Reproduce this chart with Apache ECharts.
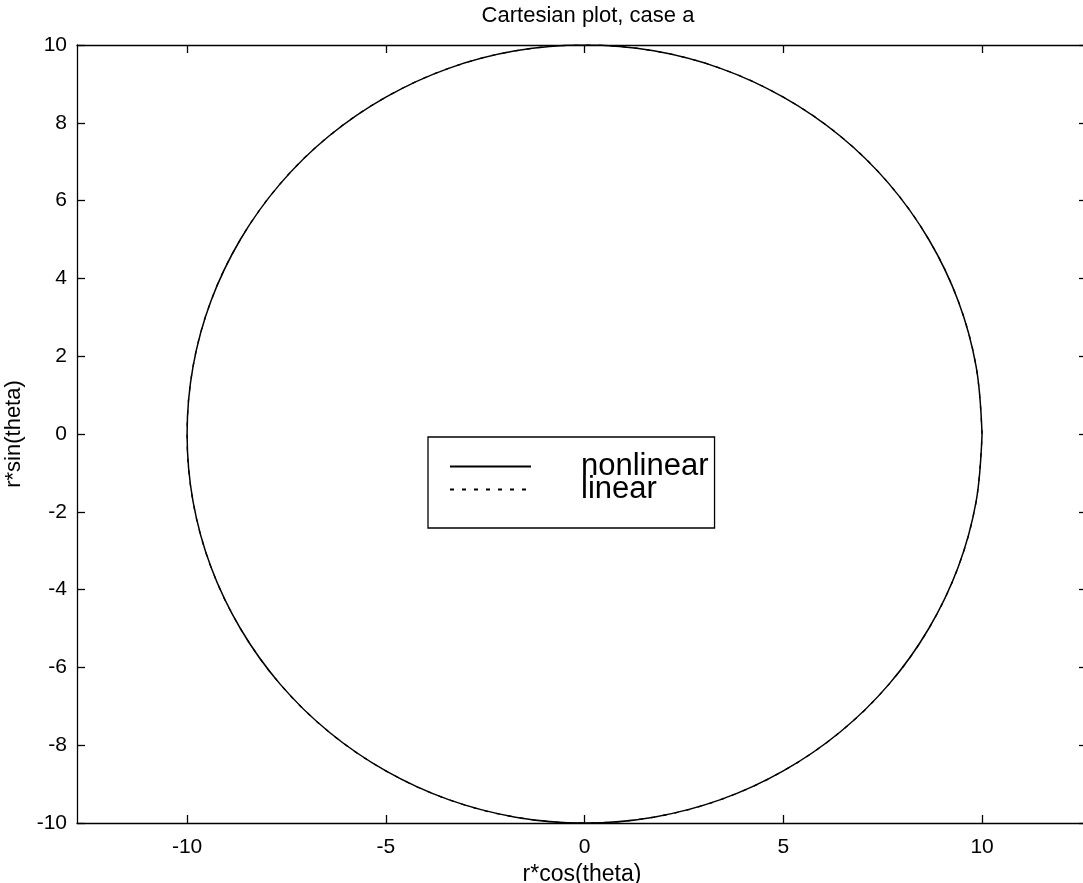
<!DOCTYPE html>
<html>
<head>
<meta charset="utf-8">
<script src="https://cdn.jsdelivr.net/npm/echarts@6/dist/echarts.min.js"></script>
<style>html,body{margin:0;padding:0;background:#fff;}#c{width:1083px;height:883px;}</style>
</head>
<body>
<div id="c"></div>
<script>
// Points (x = r*cos(theta), y = r*sin(theta))
var nonlinearX = [10, 9.85, 9.40, 8.66, 7.66, 6.43, 5.00, 3.42, 1.74, 0, -1.74, -3.42, -5.00, -6.43, -7.66, -8.66, -9.40, -9.85, -10, -9.85, -9.40, -8.66, -7.66, -6.43, -5.00, -3.42, -1.74, 0, 1.74, 3.42, 5.00, 6.43, 7.66, 8.66, 9.40, 9.85, 10];
var nonlinearY = [0, 1.74, 3.42, 5.00, 6.43, 7.66, 8.66, 9.40, 9.85, 10, 9.85, 9.40, 8.66, 7.66, 6.43, 5.00, 3.42, 1.74, 0, -1.74, -3.42, -5.00, -6.43, -7.66, -8.66, -9.40, -9.85, -10, -9.85, -9.40, -8.66, -7.66, -6.43, -5.00, -3.42, -1.74, 0];
var linearX = nonlinearX.slice();
var linearY = nonlinearY.slice();
var xTicks = [-10, -5, 0, 5, 10];
var yTicks = [-10, -8, -6, -4, -2, 0, 2, 4, 6, 8, 10];
var seriesNames = ['nonlinear', 'linear'];
var titleText = 'Cartesian plot, case a';
var xName = 'r*cos(theta)';
var yName = 'r*sin(theta)';

function pairs(xs, ys) { return xs.map(function (x, i) { return [x, ys[i]]; }); }

var FONT = 'Liberation Sans, Arial, sans-serif';
var chart = echarts.init(document.getElementById('c'), null, { renderer: 'canvas' });
var X_MIN = -12.77, X_MAX = 12.64;
var axisLine = { show: true, onZero: false, lineStyle: { color: '#000', width: 1.3 } };
var tick = { show: true, inside: true, length: 8, lineStyle: { color: '#000', width: 1.3 } };

chart.setOption({
  backgroundColor: '#fff',
  animation: false,
  title: {
    text: titleText, left: 583, top: 0, textAlign: 'center',
    textStyle: { fontFamily: FONT, fontSize: 22, fontWeight: 'normal', color: '#000' }
  },
  grid: { left: 77, top: 45, width: 1010, bottom: 60, containLabel: false, outerBoundsMode: 'none' },
  legend: {
    data: seriesNames,
    orient: 'vertical', left: 428, top: 437,
    padding: [14, 6, 23, 21],
    itemWidth: 81, itemHeight: 14, itemGap: -8,
    borderColor: '#000', borderWidth: 1.3, borderRadius: 0,
    backgroundColor: '#fff',
    selectedMode: false,
    itemStyle: { opacity: 0, borderWidth: 0 },
    textStyle: { fontFamily: FONT, fontSize: 31, color: '#000', padding: [0, 0, 0, 45] }
  },
  xAxis: [{
    type: 'value', position: 'bottom', min: X_MIN, max: X_MAX,
    name: xName, nameLocation: 'middle', nameGap: 38,
    nameTextStyle: { fontFamily: FONT, fontSize: 23, color: '#000' },
    axisLine: axisLine, axisTick: Object.assign({ customValues: xTicks }, tick),
    axisLabel: { customValues: xTicks, margin: 14, fontFamily: FONT, fontSize: 21, color: '#000' },
    splitLine: { show: false }
  }, {
    type: 'value', position: 'top', min: X_MIN, max: X_MAX,
    axisLine: axisLine, axisTick: Object.assign({ customValues: xTicks }, tick),
    axisLabel: { show: false, customValues: xTicks },
    splitLine: { show: false }
  }],
  yAxis: [{
    type: 'value', position: 'left', min: -10, max: 10, interval: 2,
    name: yName, nameLocation: 'middle', nameGap: 52,
    nameTextStyle: { fontFamily: FONT, fontSize: 22, color: '#000' },
    axisLine: axisLine, axisTick: tick,
    axisLabel: { margin: 10, fontFamily: FONT, fontSize: 21, color: '#000' },
    splitLine: { show: false }
  }, {
    type: 'value', position: 'right', min: -10, max: 10, interval: 2,
    axisLine: axisLine, axisTick: tick,
    axisLabel: { show: false },
    splitLine: { show: false }
  }],
  series: [{
    name: seriesNames[0], type: 'line', xAxisIndex: 0, yAxisIndex: 0,
    data: pairs(nonlinearX, nonlinearY), smooth: 0.35, symbol: 'none',
    lineStyle: { color: '#000', width: 1.5, type: 'solid' }, z: 3
  }, {
    name: seriesNames[1], type: 'line', xAxisIndex: 0, yAxisIndex: 0,
    data: pairs(linearX, linearY), smooth: 0.35, symbol: 'none',
    lineStyle: { color: '#000', width: 1.3, type: [4, 8] }, z: 2
  }]
});
</script>
</body>
</html>
